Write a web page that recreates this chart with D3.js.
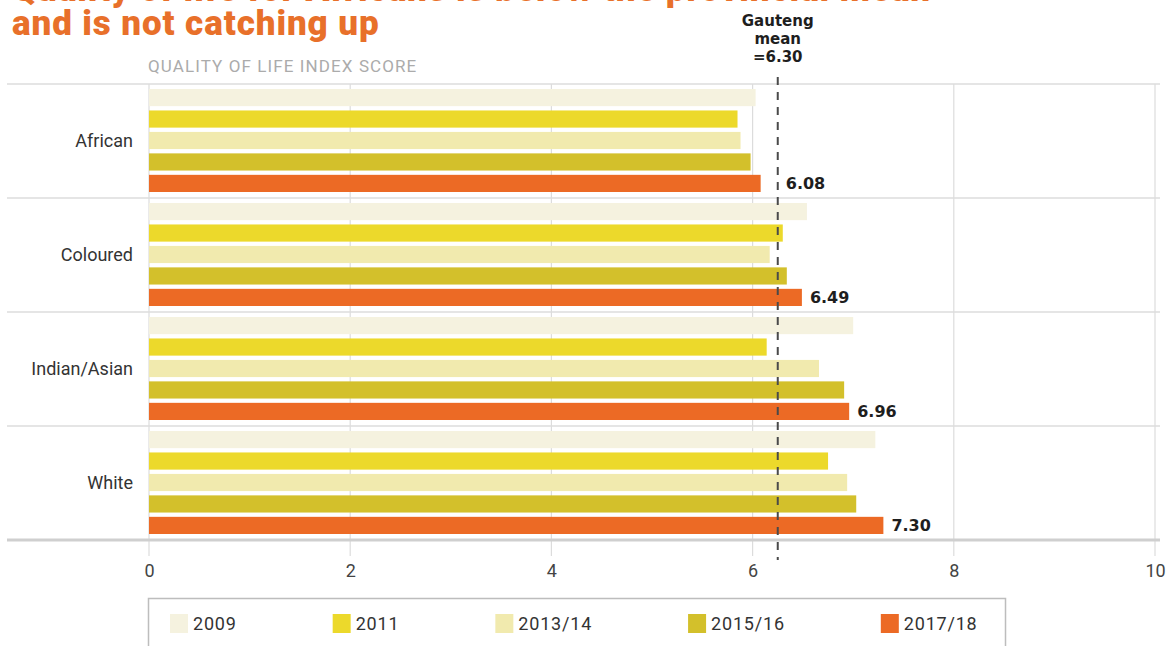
<!DOCTYPE html>
<html>
<head>
<meta charset="utf-8">
<script src="https://cdn.jsdelivr.net/npm/d3@7"></script>
<style>
  body { margin: 0; background: #fff; }
  svg { display: block; }
</style>
</head>
<body>
<div id="chart"></div>
<script>
const width = 1169
const height = 646

// data
const groups = ['African', 'Coloured', 'Indian/Asian', 'White']
const years = ['2009', '2011', '2013/14', '2015/16', '2017/18']
const yearColors = ['#f5f2df', '#ecd92b', '#f1eaae', '#d3c02b', '#ec6a25']
const scores = {
    'African':      [6.03, 5.85, 5.88, 5.98, 6.08],
    'Coloured':     [6.54, 6.30, 6.17, 6.34, 6.49],
    'Indian/Asian': [7.00, 6.14, 6.66, 6.91, 6.96],
    'White':        [7.22, 6.75, 6.94, 7.03, 7.30]
}
const xTicks = [0, 2, 4, 6, 8, 10]
const gautengMean = 6.30
const meanLineAt = 6.25   // where the dashed line actually sits in the picture

const orange = '#e8702a'

const svg = d3.select('#chart')
    .append('svg')
    .attr('width', width)
    .attr('height', height)

const x = d3.scaleLinear()
    .domain([0, 10])
    .range([149, 1155])

const y = d3.scaleBand()
    .domain(groups)
    .range([84, 540])

const yInner = d3.scaleBand()
    .domain(years)
    .range([5, 108])
    .paddingInner(0.2)

const color = d3.scaleOrdinal()
    .domain(years)
    .range(yearColors)

// title (first line is cropped off the top in the reference)
const titleLines = ['Quality of life for Africans is below the provincial mean', 'and is not catching up']
svg.append('g')
    .selectAll('text')
    .data(titleLines)
    .enter()
    .append('text')
    .attr('x', 12)
    .attr('y', (d, i) => 1 + i * 34)
    .attr('fill', orange)
    .attr('font-family', 'Roboto, sans-serif')
    .attr('font-weight', 900)
    .attr('font-size', 35)
    .attr('letter-spacing', 0.9)
    .text(d => d)

svg.append('text')
    .attr('x', 148)
    .attr('y', 72)
    .attr('fill', '#ababab')
    .attr('font-family', 'Roboto, sans-serif')
    .attr('font-size', 17)
    .attr('letter-spacing', 1.1)
    .text('QUALITY OF LIFE INDEX SCORE')

// vertical grid
svg.append('g')
    .selectAll('line')
    .data(xTicks)
    .enter()
    .append('line')
    .attr('x1', d => x(d))
    .attr('x2', d => x(d))
    .attr('y1', 84)
    .attr('y2', 556)
    .attr('stroke', '#dcdcdc')
    .attr('stroke-width', 1.2)

// horizontal separators
svg.append('g')
    .selectAll('line')
    .data(groups)
    .enter()
    .append('line')
    .attr('x1', 7)
    .attr('x2', 1160)
    .attr('y1', d => y(d))
    .attr('y2', d => y(d))
    .attr('stroke', '#dcdcdc')
    .attr('stroke-width', 1.5)

// bars
const groupG = svg.append('g')
    .selectAll('g')
    .data(groups)
    .enter()
    .append('g')
    .attr('transform', d => `translate(0,${y(d)})`)

groupG.selectAll('rect')
    .data(g => scores[g].map((v, i) => ({ year: years[i], value: v })))
    .enter()
    .append('rect')
    .attr('x', x(0))
    .attr('y', d => yInner(d.year))
    .attr('width', d => x(d.value) - x(0))
    .attr('height', yInner.bandwidth())
    .attr('fill', d => color(d.year))

// value labels for latest year
groupG.append('text')
    .attr('x', g => Math.max(x(scores[g][4]), x(meanLineAt)) + 8)
    .attr('y', yInner('2017/18') + yInner.bandwidth() / 2)
    .attr('dy', '0.36em')
    .attr('fill', '#1e1e1e')
    .attr('font-family', 'DejaVu Sans, sans-serif')
    .attr('font-weight', 'bold')
    .attr('font-size', 16)
    .text(g => scores[g][4].toFixed(2))

// category labels
svg.append('g')
    .selectAll('text')
    .data(groups)
    .enter()
    .append('text')
    .attr('x', 133)
    .attr('y', d => y(d) + y.bandwidth() / 2)
    .attr('dy', '0.35em')
    .attr('text-anchor', 'end')
    .attr('fill', '#333')
    .attr('font-family', 'Roboto, sans-serif')
    .attr('font-size', 18)
    .text(d => d)

// bottom axis line
svg.append('line')
    .attr('x1', 7)
    .attr('x2', 1160)
    .attr('y1', 540)
    .attr('y2', 540)
    .attr('stroke', '#cfcfcf')
    .attr('stroke-width', 3)

const xAxis = svg.append('g')
    .attr('transform', 'translate(0,564)')
    .call(d3.axisBottom(x).tickValues(xTicks).tickSize(0).tickPadding(0))
xAxis.select('.domain').remove()
xAxis.selectAll('text')
    .attr('fill', '#444')
    .attr('font-family', 'Roboto, sans-serif')
    .attr('font-size', 18)

// Gauteng mean line
svg.append('line')
    .attr('x1', x(meanLineAt))
    .attr('x2', x(meanLineAt))
    .attr('y1', 77)
    .attr('y2', 560)
    .attr('stroke', '#4a4a4a')
    .attr('stroke-width', 2)
    .attr('stroke-dasharray', '8,7')

const meanLabel = svg.append('text')
    .attr('x', x(meanLineAt))
    .attr('text-anchor', 'middle')
    .attr('fill', '#1e1e1e')
    .attr('font-family', 'DejaVu Sans, sans-serif')
    .attr('font-weight', 'bold')
    .attr('font-size', 15)
;['Gauteng', 'mean', '=' + gautengMean.toFixed(2)].forEach((t, i) => {
    meanLabel.append('tspan')
        .attr('x', x(meanLineAt))
        .attr('y', 26 + i * 18)
        .text(t)
})

// legend
svg.append('rect')
    .attr('x', 148.5)
    .attr('y', 598.5)
    .attr('width', 857)
    .attr('height', 60)
    .attr('fill', 'none')
    .attr('stroke', '#bdbdbd')
    .attr('stroke-width', 1.5)

const legend = svg.append('g')
let lx = 170
years.forEach(yr => {
    legend.append('rect')
        .attr('x', lx)
        .attr('y', 614)
        .attr('width', 18)
        .attr('height', 19)
        .attr('fill', color(yr))
    const t = legend.append('text')
        .attr('x', lx + 23)
        .attr('y', 624)
        .attr('dy', '0.35em')
        .attr('fill', '#333')
        .attr('font-family', 'Roboto, sans-serif')
        .attr('font-size', 18)
        .attr('letter-spacing', 0.8)
        .text(yr)
    lx += 23 + t.node().getComputedTextLength() + 96
})
</script>
</body>
</html>
